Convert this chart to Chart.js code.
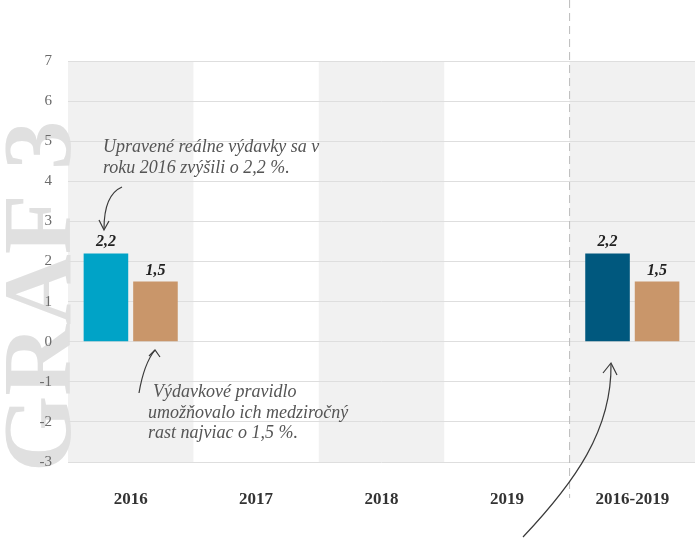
<!DOCTYPE html>
<html>
<head>
<meta charset="utf-8">
<script src="https://cdn.jsdelivr.net/npm/chart.js"></script>
<style>
  html, body { margin: 0; padding: 0; background: #fff; }
  canvas { display: block; }
</style>
</head>
<body>
<canvas id="graf" width="695" height="540"></canvas>
<script>
// Data
const categories = ["2016", "2017", "2018", "2019", "2016-2019"];
const adjustedSpending = [2.2, null, null, null, 2.2]; // upravené reálne výdavky
const spendingRule = [1.5, null, null, null, 1.5];     // výdavkové pravidlo
const yMin = -3;
const yMax = 7;

const serif = "'Liberation Serif', 'DejaVu Serif', serif";

// Alternating grey bands behind the categories + the big "GRAF 3" watermark
const bandsPlugin = {
  id: "bands",
  beforeDraw(chart) {
    const { ctx, chartArea, scales } = chart;
    const x = scales.x;
    const step = x.getPixelForValue(1) - x.getPixelForValue(0);
    ctx.save();
    ctx.fillStyle = "#f1f1f1";
    categories.forEach((c, i) => {
      if (i % 2 !== 0) return;
      const left = Math.max(chartArea.left, x.getPixelForValue(i) - step / 2);
      const right = Math.min(chartArea.right, x.getPixelForValue(i) + step / 2);
      ctx.fillRect(left, chartArea.top, right - left, chartArea.bottom - chartArea.top);
    });
    // watermark
    ctx.translate(70, 472);
    ctx.rotate(-Math.PI / 2);
    ctx.fillStyle = "#e0e0e0";
    ctx.font = "bold 98px " + serif;
    ctx.textBaseline = "alphabetic";
    ctx.fillText("GRAF 3", 0, 0);
    ctx.restore();
  },
};

// Value labels above the bars
const valueLabels = {
  id: "valueLabels",
  afterDatasetsDraw(chart) {
    const { ctx } = chart;
    ctx.save();
    ctx.fillStyle = "#222";
    ctx.font = "italic bold 16px " + serif;
    ctx.textAlign = "center";
    ctx.textBaseline = "alphabetic";
    chart.data.datasets.forEach((ds, di) => {
      chart.getDatasetMeta(di).data.forEach((bar, i) => {
        const v = ds.data[i];
        if (v == null) return;
        ctx.fillText(v.toFixed(1).replace(".", ","), bar.x, bar.y - 7);
      });
    });
    ctx.restore();
  },
};

function arrowHead(ctx, tipX, tipY, a1, a2) {
  ctx.beginPath();
  ctx.moveTo(a1[0], a1[1]);
  ctx.lineTo(tipX, tipY);
  ctx.lineTo(a2[0], a2[1]);
  ctx.stroke();
}

// Dashed separator, notes and hand-drawn arrows
const notesPlugin = {
  id: "notes",
  afterDraw(chart) {
    const { ctx, scales } = chart;
    const x = scales.x;
    const sep = (x.getPixelForValue(3) + x.getPixelForValue(4)) / 2;

    ctx.save();
    ctx.strokeStyle = "#bbbbbb";
    ctx.lineWidth = 1;
    ctx.setLineDash([8, 5]);
    ctx.beginPath();
    ctx.moveTo(sep, 0);
    ctx.lineTo(sep, 498);
    ctx.stroke();
    ctx.setLineDash([]);

    ctx.fillStyle = "#555";
    ctx.font = "italic 18px " + serif;
    ctx.textAlign = "left";
    ctx.fillText("Upravené reálne výdavky sa v", 103, 152);
    ctx.fillText("roku 2016 zvýšili o 2,2 %.", 103, 173);
    ctx.fillText("Výdavkové pravidlo", 153, 397);
    ctx.fillText("umožňovalo ich medziročný", 148, 418);
    ctx.fillText("rast najviac o 1,5 %.", 148, 438);

    ctx.strokeStyle = "#3a3a3a";
    ctx.lineWidth = 1.2;
    // arrow to the 2,2 label
    ctx.beginPath();
    ctx.moveTo(122, 187);
    ctx.bezierCurveTo(108, 193, 104, 210, 104, 229);
    ctx.stroke();
    arrowHead(ctx, 104, 230, [99, 220], [109, 221]);

    // arrow up to the 1,5 bar
    ctx.beginPath();
    ctx.moveTo(139, 393);
    ctx.bezierCurveTo(142, 375, 147, 360, 155, 350);
    ctx.stroke();
    arrowHead(ctx, 155, 350, [149, 356], [160, 357]);

    // long arrow up to the 2016-2019 bar
    ctx.beginPath();
    ctx.moveTo(523, 537);
    ctx.bezierCurveTo(575, 482, 612, 430, 611, 364);
    ctx.stroke();
    arrowHead(ctx, 611, 363, [603, 373], [617, 375]);
    ctx.restore();
  },
};

new Chart(document.getElementById("graf").getContext("2d"), {
  type: "bar",
  data: {
    labels: categories,
    datasets: [
      {
        label: "Upravené reálne výdavky",
        data: adjustedSpending,
        backgroundColor: ["#00a3c7", "#00a3c7", "#00a3c7", "#00a3c7", "#00587e"],
        borderWidth: 0,
        categoryPercentage: 0.79,
        barPercentage: 0.9,
      },
      {
        label: "Výdavkové pravidlo",
        data: spendingRule,
        backgroundColor: "#c9966a",
        borderWidth: 0,
        categoryPercentage: 0.79,
        barPercentage: 0.9,
      },
    ],
  },
  options: {
    responsive: false,
    animation: false,
    devicePixelRatio: 1,
    layout: { padding: { top: 61, right: 0, left: 0, bottom: 0 } },
    plugins: {
      legend: { display: false },
      tooltip: { enabled: false },
    },
    scales: {
      x: {
        grid: { display: false },
        border: { display: false },
        ticks: {
          color: "#333",
          font: { family: serif, size: 17, weight: "bold" },
          padding: 19,
        },
        afterFit(scale) { scale.height = 78; },
      },
      y: {
        min: yMin,
        max: yMax,
        grid: { color: "#dedede", drawTicks: false },
        border: { display: false },
        ticks: {
          stepSize: 1,
          color: "#6a6a6a",
          font: { family: serif, size: 15 },
          padding: 16,
        },
        afterFit(scale) { scale.width = 68; },
      },
    },
  },
  plugins: [bandsPlugin, valueLabels, notesPlugin],
});
</script>
</body>
</html>
